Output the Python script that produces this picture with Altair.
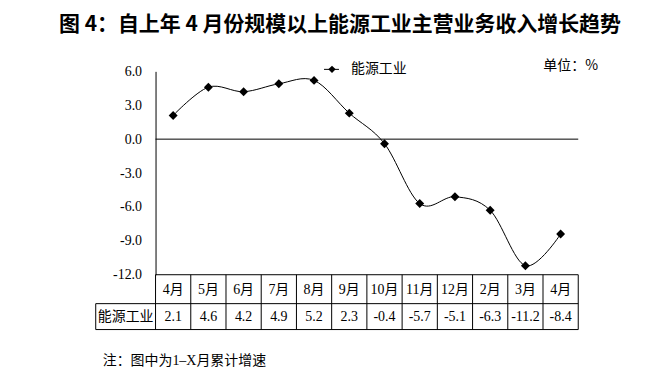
import altair as alt
import pandas as pd

# ---- data ----
months = ["4月", "5月", "6月", "7月", "8月", "9月", "10月", "11月", "12月", "2月", "3月", "4月"]
values = [2.1, 4.6, 4.2, 4.9, 5.2, 2.3, -0.4, -5.7, -5.1, -6.3, -11.2, -8.4]
value_labels = ["2.1", "4.6", "4.2", "4.9", "5.2", "2.3", "-0.4", "-5.7", "-5.1", "-6.3", "-11.2", "-8.4"]
y_ticks = [-12, -9, -6, -3, 0, 3, 6]
series_name = "能源工业"
title_text = "图 4：自上年 4 月份规模以上能源工业主营业务收入增长趋势"
unit_text = "单位：%"
note_text = "注：图中为1–X月累计增速"

W, H = 424, 204
ROW1_BOTTOM = 233
ROW2_BOTTOM = 259
LABEL_LEFT = -60

SERIF = "Liberation Serif, Noto Sans CJK SC"
CJK = "Noto Sans CJK SC"

df = pd.DataFrame({"i": list(range(len(months))), "month": months,
                   "value": values, "label": value_labels})

xscale = alt.Scale(domain=[-0.5, len(months) - 0.5], nice=False, zero=False)
yscale = alt.Scale(domain=[-12, 6], nice=False)

yaxis = alt.Axis(values=y_ticks, title=None, grid=False, ticks=False,
                 labelExpr="replace(format(datum.value, '.1f'), '\u2212', '-')",
                 labelPadding=14, labelFont="Liberation Serif", labelFontSize=14,
                 labelColor="black", domainColor="black", domainWidth=1)

base = alt.Chart(df)

line = base.mark_line(interpolate="cardinal", color="black", strokeWidth=1).encode(
    x=alt.X("i:Q", scale=xscale, axis=None),
    y=alt.Y("value:Q", scale=yscale, axis=yaxis),
)
points = base.mark_point(shape="diamond", filled=True, color="black", size=80, opacity=1).encode(
    x=alt.X("i:Q", scale=xscale, axis=None),
    y=alt.Y("value:Q", scale=yscale, axis=yaxis),
)

zero = alt.Chart(pd.DataFrame({"value": [0]})).mark_rule(color="black", strokeWidth=1).encode(
    y=alt.Y("value:Q", scale=yscale, axis=yaxis)
)

one = pd.DataFrame({"a": [0]})

# table grid
bounds = pd.DataFrame({"b": [k - 0.5 for k in range(len(months) + 1)]})
vlines = alt.Chart(bounds).mark_rule(color="black", strokeWidth=1).encode(
    x=alt.X("b:Q", scale=xscale, axis=None),
    y=alt.value(H), y2=alt.value(ROW2_BOTTOM),
)
top_line = alt.Chart(one).mark_rule(color="black", strokeWidth=1).encode(
    x=alt.value(0), x2=alt.value(W), y=alt.value(H))
mid_line = alt.Chart(one).mark_rule(color="black", strokeWidth=1).encode(
    x=alt.value(LABEL_LEFT), x2=alt.value(W), y=alt.value(ROW1_BOTTOM))
bot_line = alt.Chart(one).mark_rule(color="black", strokeWidth=1).encode(
    x=alt.value(LABEL_LEFT), x2=alt.value(W), y=alt.value(ROW2_BOTTOM))
left_line = alt.Chart(one).mark_rule(color="black", strokeWidth=1).encode(
    x=alt.value(LABEL_LEFT), y=alt.value(ROW1_BOTTOM), y2=alt.value(ROW2_BOTTOM))

month_text = base.mark_text(font=SERIF, fontSize=14, color="black", baseline="middle").encode(
    x=alt.X("i:Q", scale=xscale, axis=None), y=alt.value(219), text="month:N")
value_text = base.mark_text(font=SERIF, fontSize=14, color="black", baseline="middle").encode(
    x=alt.X("i:Q", scale=xscale, axis=None), y=alt.value(246), text="label:N")
row_label = alt.Chart(pd.DataFrame({"t": [series_name]})).mark_text(
    font=CJK, fontSize=14, color="black", baseline="middle").encode(
    x=alt.value(-30), y=alt.value(246), text="t:N")

# title, legend, unit, note
title = alt.Chart(pd.DataFrame({"t": [title_text]})).mark_text(
    font=CJK, fontSize=21, fontWeight="bold", color="black", baseline="middle").encode(
    x=alt.value(185), y=alt.value(-46), text="t:N")
leg_line = alt.Chart(one).mark_rule(color="black", strokeWidth=1).encode(
    x=alt.value(169), x2=alt.value(184), y=alt.value(-2))
leg_pt = alt.Chart(one).mark_point(shape="diamond", filled=True, color="black", size=55, opacity=1).encode(
    x=alt.value(177), y=alt.value(-2))
leg_text = alt.Chart(pd.DataFrame({"t": [series_name]})).mark_text(
    font=CJK, fontSize=14, color="black", align="left", baseline="middle").encode(
    x=alt.value(196), y=alt.value(-2), text="t:N")
unit = alt.Chart(pd.DataFrame({"t": [unit_text]})).mark_text(
    font=CJK, fontSize=14, color="black", align="left", baseline="middle").encode(
    x=alt.value(389), y=alt.value(-5), text="t:N")
note = alt.Chart(pd.DataFrame({"t": [note_text]})).mark_text(
    font="Liberation Serif, " + CJK, fontSize=14, color="black", align="left", baseline="middle").encode(
    x=alt.value(-53), y=alt.value(291), text="t:N")

chart = alt.layer(
    zero, line, points, vlines, top_line, mid_line, bot_line, left_line,
    month_text, value_text, row_label, title, leg_line, leg_pt, leg_text, unit, note,
).properties(
    width=W, height=H,
    autosize=alt.AutoSizeParams(type="none"),
    padding={"left": 148, "top": 63, "right": 77, "bottom": 93},
    background="white",
).configure_view(stroke=None)

chart.save("out.html", embed_options={"renderer": "svg", "actions": False})
